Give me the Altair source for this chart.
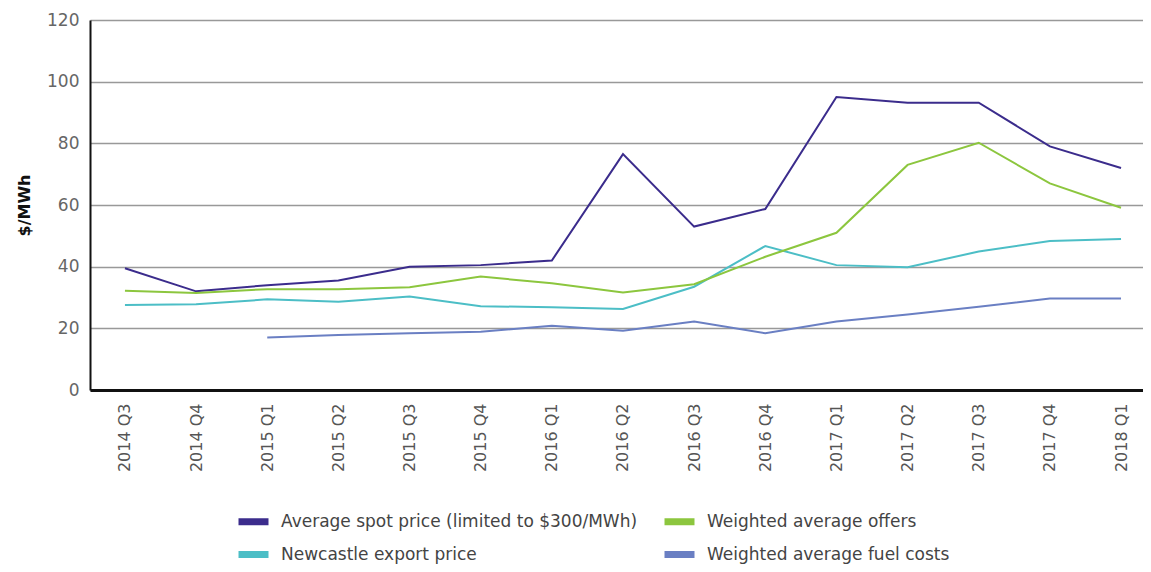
import altair as alt
import pandas as pd

quarters = ["2014 Q3", "2014 Q4", "2015 Q1", "2015 Q2", "2015 Q3", "2015 Q4",
            "2016 Q1", "2016 Q2", "2016 Q3", "2016 Q4", "2017 Q1", "2017 Q2",
            "2017 Q3", "2017 Q4", "2018 Q1"]

spot = [39.5, 32.0, 34.0, 35.5, 40.0, 40.5, 42.0, 76.5, 53.0, 58.7, 95.0, 93.2, 93.2, 79.0, 72.0]
offers = [32.2, 31.5, 32.7, 32.7, 33.3, 36.8, 34.6, 31.6, 34.3, 43.2, 51.0, 73.0, 80.2, 67.0, 59.1]
newcastle = [27.6, 27.8, 29.4, 28.6, 30.3, 27.2, 26.8, 26.3, 33.5, 46.7, 40.5, 39.8, 44.9, 48.3, 49.0]
fuel = [None, None, 17.0, 17.8, 18.4, 18.9, 20.8, 19.2, 22.2, 18.4, 22.2, 24.5, 27.0, 29.7, 29.7]

# legend is filled column by column: spot, newcastle | offers, fuel
series_names = ["Average spot price (limited to $300/MWh)", "Newcastle export price",
                "Weighted average offers", "Weighted average fuel costs"]
series_values = [spot, newcastle, offers, fuel]
series_colors = ["#3b2c8c", "#4cbec6", "#8cc63e", "#6a7fc3"]

rows = []
for name, vals in zip(series_names, series_values):
    for q, v in zip(quarters, vals):
        if v is not None:
            rows.append({"quarter": q, "series": name, "value": v})
df = pd.DataFrame(rows)

FONT = "DejaVu Sans"

chart = alt.Chart(df).mark_line(strokeWidth=2).encode(
    x=alt.X("quarter:O", sort=quarters,
            scale=alt.Scale(type="point", padding=0.4, align=0.614),
            axis=alt.Axis(title=None, labelAngle=-90, labelFontSize=16, labelColor="#555",
                          labelFont=FONT, domainColor="#111", domainWidth=3, ticks=False,
                          labelPadding=13, grid=False)),
    y=alt.Y("value:Q", scale=alt.Scale(domain=[0, 120], nice=False),
            axis=alt.Axis(title="$/MWh", values=[0, 20, 40, 60, 80, 100, 120],
                          titleFontSize=16, titleFontWeight="bold", titleFont=FONT,
                          titleColor="#111", titlePadding=14,
                          labelFontSize=17, labelColor="#666", labelFont=FONT,
                          labelPadding=11, ticks=False, domainColor="#111", domainWidth=2,
                          gridColor="#999", gridWidth=1.5)),
    color=alt.Color("series:N",
                    scale=alt.Scale(domain=series_names, range=series_colors),
                    legend=alt.Legend(title=None, orient="none", legendX=145, legendY=483,
                                      columns=2, columnPadding=12, rowPadding=0,
                                      symbolType="stroke", symbolStrokeWidth=7, symbolSize=900,
                                      labelFontSize=17, labelFont=FONT, labelColor="#444",
                                      labelLimit=500, labelOffset=9)),
).properties(
    width=1053, height=370,
    autosize=alt.AutoSizeParams(type="none"),
    padding={"left": 82, "top": 12, "right": 0, "bottom": 174},
).configure_view(stroke=None)

chart.save("out.html", embed_options={"renderer": "svg", "actions": False})
